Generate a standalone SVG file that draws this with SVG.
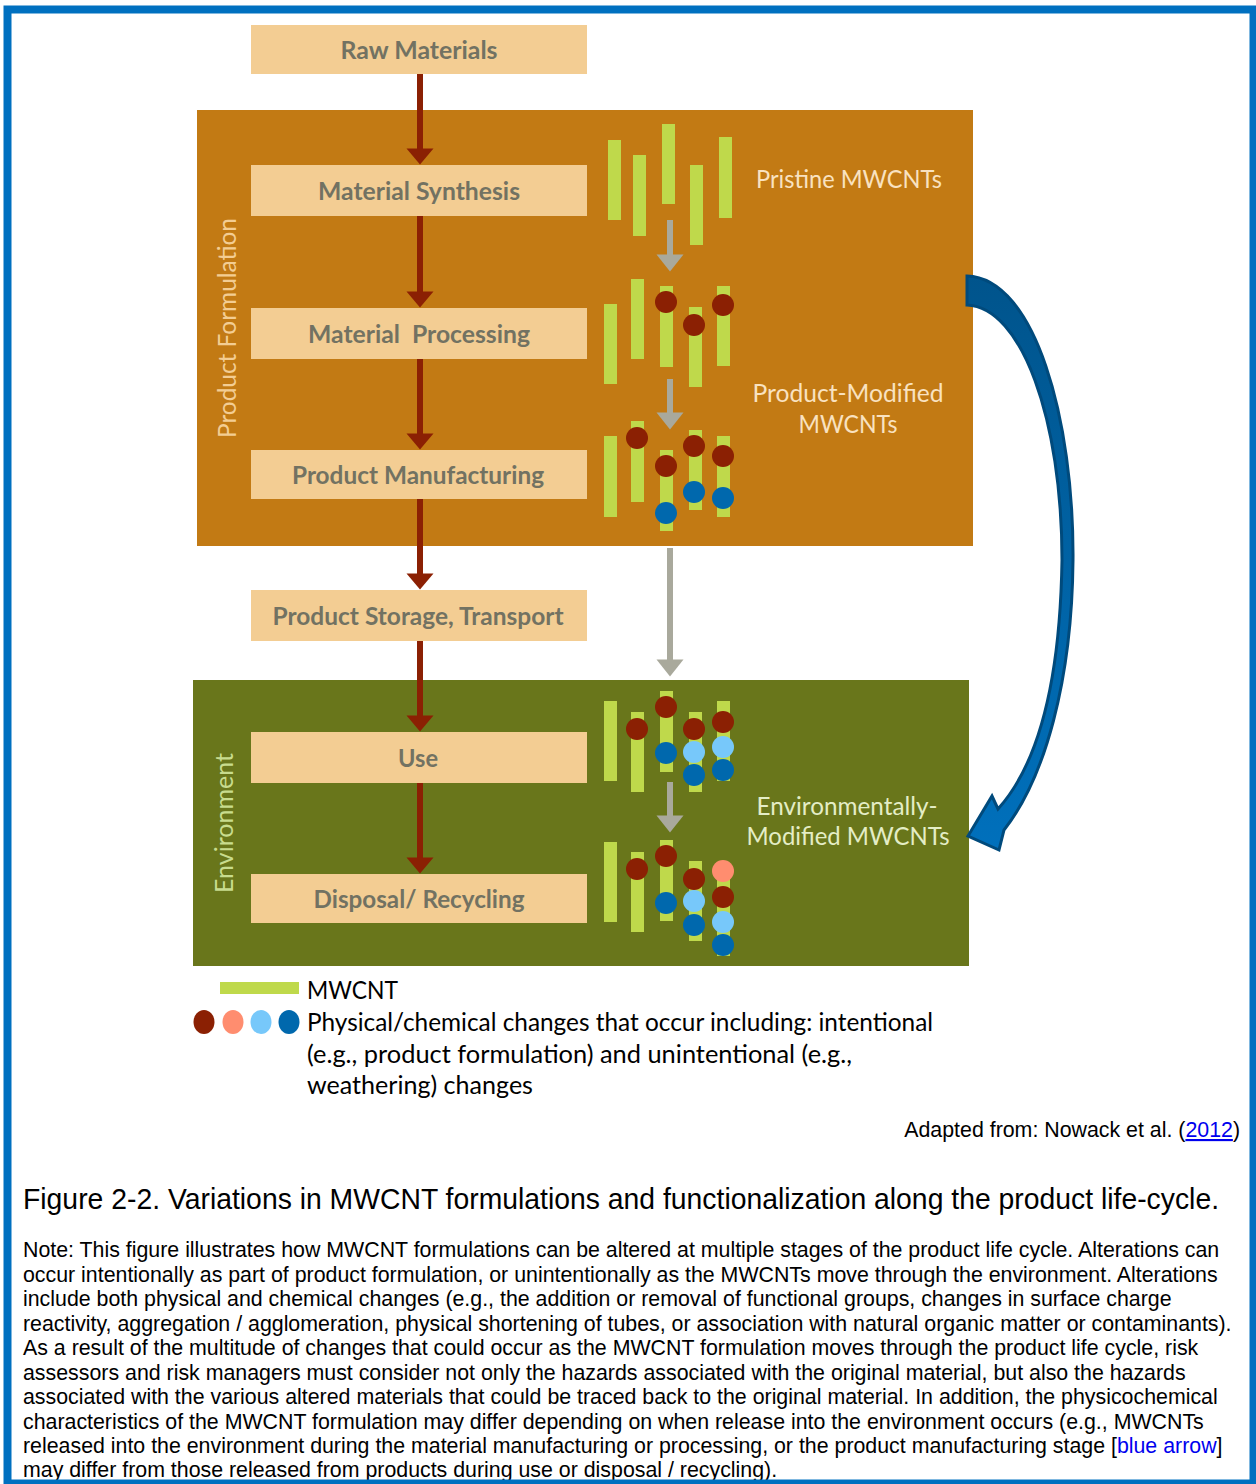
<svg xmlns="http://www.w3.org/2000/svg" width="1256" height="1484" viewBox="0 0 1256 1484">
<defs>
<style>
.step{fill:#F3CD93}
.stxt{font-family:Lato,'Open Sans',sans-serif;font-weight:700;font-size:24px;fill:#727262;text-anchor:middle}
.tube{fill:#BFD94B}
.r{fill:#8B2003}.s{fill:#FF8D6F}.lb{fill:#77C8FA}.b{fill:#0068AD}
.flow{stroke:#8B2003;stroke-width:6;fill:none}
.gflow{stroke:#A9A99C;stroke-width:6;fill:none}
.side{font-family:Lato,'Open Sans',sans-serif;font-size:25px;text-anchor:middle}
.leg{font-family:Lato,'Open Sans',sans-serif;font-size:25px;fill:#000}
.note{font-family:'Liberation Sans',Arial,sans-serif;font-size:21.35px;fill:#000}
</style>
<marker id="ah" markerUnits="userSpaceOnUse" markerWidth="18" markerHeight="28" refX="0.5" refY="13.5" orient="auto" overflow="visible"><path d="M0,0 L16,13.5 L0,27 Z" fill="#8B2003"/></marker>
<marker id="gh" markerUnits="userSpaceOnUse" markerWidth="18" markerHeight="28" refX="0.5" refY="13.5" orient="auto" overflow="visible"><path d="M0,0 L17,13.5 L0,27 Z" fill="#A9A99C"/></marker>
<linearGradient id="bluegrad" x1="0" y1="0" x2="0" y2="1"><stop offset="0" stop-color="#00548C"/><stop offset="1" stop-color="#0070BC"/></linearGradient>
</defs>
<rect x="0" y="0" width="1256" height="1484" fill="#fff"/>

<g id="product-formulation">
<rect x="197" y="110" width="776" height="436" fill="#C27A14"/>
<text class="side" fill="#F3CD93" transform="translate(236,328) rotate(-90)" textLength="220" lengthAdjust="spacingAndGlyphs">Product Formulation</text>
</g>
<g id="environment">
<rect x="193" y="680" width="776" height="286" fill="#69761B"/>
<text class="side" fill="#C8DC8E" transform="translate(233,823) rotate(-90)" textLength="140" lengthAdjust="spacingAndGlyphs">Environment</text>
</g>

<g id="raw-materials"><rect class="step" x="251" y="25" width="336" height="49"/><text class="stxt" x="419" y="59" textLength="157" lengthAdjust="spacingAndGlyphs">Raw Materials</text></g>
<g id="material-synthesis"><rect class="step" x="251" y="165" width="336" height="51"/><text class="stxt" x="419" y="200" textLength="202" lengthAdjust="spacingAndGlyphs">Material Synthesis</text></g>
<g id="material-processing"><rect class="step" x="251" y="308" width="336" height="51"/><text class="stxt" x="419" y="343" textLength="222" lengthAdjust="spacingAndGlyphs" xml:space="preserve">Material  Processing</text></g>
<g id="product-manufacturing"><rect class="step" x="251" y="450" width="336" height="49"/><text class="stxt" x="418" y="484" textLength="252" lengthAdjust="spacingAndGlyphs">Product Manufacturing</text></g>
<g id="product-storage"><rect class="step" x="251" y="590" width="336" height="51"/><text class="stxt" x="418" y="625" textLength="291" lengthAdjust="spacingAndGlyphs">Product Storage, Transport</text></g>
<g id="use"><rect class="step" x="251" y="732" width="336" height="51"/><text class="stxt" x="418" y="767" textLength="40" lengthAdjust="spacingAndGlyphs">Use</text></g>
<g id="disposal"><rect class="step" x="251" y="874" width="336" height="49"/><text class="stxt" x="419" y="908" textLength="211" lengthAdjust="spacingAndGlyphs">Disposal/ Recycling</text></g>

<g id="pristine">
<rect class="tube" x="608" y="140" width="13" height="80"/>
<rect class="tube" x="633" y="155" width="13" height="81"/>
<rect class="tube" x="662" y="124" width="13" height="80"/>
<rect class="tube" x="690" y="165" width="13" height="80"/>
<rect class="tube" x="719" y="137" width="13" height="81"/>
<text class="side" fill="#F9E2C0" x="849" y="188" textLength="186" lengthAdjust="spacingAndGlyphs">Pristine MWCNTs</text>
</g>
<g id="product-modified-1">
<rect class="tube" x="604" y="304" width="13" height="80"/>
<rect class="tube" x="631" y="279" width="13" height="80"/>
<rect class="tube" x="660" y="286" width="13" height="81"/>
<rect class="tube" x="689" y="307" width="13" height="80"/>
<rect class="tube" x="717" y="286" width="13" height="80"/>
<circle class="r" cx="666" cy="302" r="11"/>
<circle class="r" cx="694" cy="325" r="11"/>
<circle class="r" cx="723" cy="305" r="11"/>
</g>
<g id="product-modified-2">
<rect class="tube" x="604" y="436" width="13" height="81"/>
<rect class="tube" x="631" y="421" width="13" height="81"/>
<rect class="tube" x="660" y="450" width="13" height="81"/>
<rect class="tube" x="689" y="430" width="13" height="80"/>
<rect class="tube" x="717" y="436" width="13" height="81"/>
<circle class="r" cx="637" cy="438" r="11"/>
<circle class="r" cx="666" cy="466" r="11"/>
<circle class="b" cx="666" cy="513" r="11"/>
<circle class="r" cx="694" cy="446" r="11"/>
<circle class="b" cx="694" cy="492" r="11"/>
<circle class="r" cx="723" cy="456" r="11"/>
<circle class="b" cx="723" cy="498" r="11"/>
<text class="side" fill="#F9E2C0" x="848" y="402" textLength="191" lengthAdjust="spacingAndGlyphs">Product-Modified</text>
<text class="side" fill="#F9E2C0" x="848" y="433" textLength="99" lengthAdjust="spacingAndGlyphs">MWCNTs</text>
</g>
<g id="env-modified-1">
<rect class="tube" x="604" y="701" width="13" height="80"/>
<rect class="tube" x="631" y="712" width="13" height="80"/>
<rect class="tube" x="660" y="691" width="13" height="81"/>
<rect class="tube" x="689" y="712" width="13" height="80"/>
<rect class="tube" x="717" y="701" width="13" height="80"/>
<circle class="r" cx="637" cy="729" r="11"/>
<circle class="r" cx="666" cy="707" r="11"/>
<circle class="b" cx="666" cy="753" r="11"/>
<circle class="r" cx="694" cy="729" r="11"/>
<circle class="lb" cx="694" cy="752" r="11"/>
<circle class="b" cx="694" cy="775" r="11"/>
<circle class="r" cx="723" cy="722" r="11"/>
<circle class="lb" cx="723" cy="747" r="11"/>
<circle class="b" cx="723" cy="770" r="11"/>
</g>
<g id="env-modified-2">
<rect class="tube" x="604" y="842" width="13" height="80"/>
<rect class="tube" x="631" y="852" width="13" height="80"/>
<rect class="tube" x="660" y="840" width="13" height="81"/>
<rect class="tube" x="689" y="861" width="13" height="80"/>
<rect class="tube" x="717" y="875" width="13" height="81"/>
<circle class="r" cx="637" cy="869" r="11"/>
<circle class="r" cx="666" cy="856" r="11"/>
<circle class="b" cx="666" cy="903" r="11"/>
<circle class="r" cx="694" cy="879" r="11"/>
<circle class="lb" cx="694" cy="901" r="11"/>
<circle class="b" cx="694" cy="925" r="11"/>
<circle class="s" cx="723" cy="871" r="11"/>
<circle class="r" cx="723" cy="897" r="11"/>
<circle class="lb" cx="723" cy="922" r="11"/>
<circle class="b" cx="723" cy="945" r="11"/>
<text class="side" fill="#E4EDC6" x="847" y="815" textLength="181" lengthAdjust="spacingAndGlyphs">Environmentally-</text>
<text class="side" fill="#E4EDC6" x="848" y="845" textLength="203" lengthAdjust="spacingAndGlyphs">Modified MWCNTs</text>
</g>

<g id="connectors">
<line class="flow" x1="420" y1="74" x2="420" y2="149" marker-end="url(#ah)"/>
<line class="flow" x1="420" y1="216" x2="420" y2="292" marker-end="url(#ah)"/>
<line class="flow" x1="420" y1="359" x2="420" y2="434" marker-end="url(#ah)"/>
<line class="flow" x1="420" y1="499" x2="420" y2="574" marker-end="url(#ah)"/>
<line class="flow" x1="420" y1="641" x2="420" y2="716" marker-end="url(#ah)"/>
<line class="flow" x1="420" y1="783" x2="420" y2="858" marker-end="url(#ah)"/>
<line class="gflow" x1="670" y1="220" x2="670" y2="255" marker-end="url(#gh)"/>
<line class="gflow" x1="670" y1="379" x2="670" y2="413" marker-end="url(#gh)"/>
<line class="gflow" x1="670" y1="548" x2="670" y2="660" marker-end="url(#gh)"/>
<line class="gflow" x1="670" y1="782" x2="670" y2="816" marker-end="url(#gh)"/>
<path id="blue-arrow" d="M967,276 C1035,278 1074,420 1073,560 C1072,680 1045,778 1004,830 L999,850 L968,836 L992,796 L998,809 C1035,768 1060,690 1062,560 C1062,420 1022,307 967,305 Z" fill="url(#bluegrad)" stroke="#004A7C" stroke-width="3" stroke-linejoin="miter"/>
</g>

<g id="legend">
<rect class="tube" x="220" y="982" width="79" height="12"/>
<text class="leg" x="307" y="999" textLength="91" lengthAdjust="spacingAndGlyphs">MWCNT</text>
<ellipse class="r" cx="204" cy="1022" rx="10.5" ry="12"/>
<ellipse class="s" cx="233" cy="1022" rx="10.5" ry="12"/>
<ellipse class="lb" cx="261" cy="1022" rx="10.5" ry="12"/>
<ellipse class="b" cx="289" cy="1022" rx="10.5" ry="12"/>
<text class="leg" x="307" y="1031" textLength="626" lengthAdjust="spacingAndGlyphs">Physical/chemical changes that occur including: intentional</text>
<text class="leg" x="307" y="1063" textLength="545" lengthAdjust="spacingAndGlyphs">(e.g., product formulation) and unintentional (e.g.,</text>
<text class="leg" x="307" y="1094" textLength="226" lengthAdjust="spacingAndGlyphs">weathering) changes</text>
</g>

<g id="caption">
<text class="note" x="1240" y="1137" text-anchor="end">Adapted from: Nowack et al. (<tspan fill="#0000EE" text-decoration="underline">2012</tspan>)</text>
<text transform="translate(23,1209) scale(0.83,1)" x="0" y="0" font-family="'Liberation Sans Narrow','Liberation Sans',Arial,sans-serif" font-size="30" fill="#000" textLength="1441" lengthAdjust="spacingAndGlyphs">Figure 2-2. Variations in MWCNT formulations and functionalization along the product life-cycle.</text>
<text class="note" x="23" y="1257">Note: This figure illustrates how MWCNT formulations can be altered at multiple stages of the product life cycle. Alterations can</text>
<text class="note" x="23" y="1281.5">occur intentionally as part of product formulation, or unintentionally as the MWCNTs move through the environment. Alterations</text>
<text class="note" x="23" y="1306">include both physical and chemical changes (e.g., the addition or removal of functional groups, changes in surface charge</text>
<text class="note" x="23" y="1330.5">reactivity, aggregation / agglomeration, physical shortening of tubes, or association with natural organic matter or contaminants).</text>
<text class="note" x="23" y="1355">As a result of the multitude of changes that could occur as the MWCNT formulation moves through the product life cycle, risk</text>
<text class="note" x="23" y="1379.5">assessors and risk managers must consider not only the hazards associated with the original material, but also the hazards</text>
<text class="note" x="23" y="1404">associated with the various altered materials that could be traced back to the original material. In addition, the physicochemical</text>
<text class="note" x="23" y="1428.5">characteristics of the MWCNT formulation may differ depending on when release into the environment occurs (e.g., MWCNTs</text>
<text class="note" x="23" y="1453">released into the environment during the material manufacturing or processing, or the product manufacturing stage [<tspan fill="#0000EE">blue arrow</tspan>]</text>
<text class="note" x="23" y="1476.5">may differ from those released from products during use or disposal / recycling).</text>
</g>

<rect id="frame" x="7.5" y="9.5" width="1246" height="1474" fill="none" stroke="#0070C0" stroke-width="8"/>
</svg>
